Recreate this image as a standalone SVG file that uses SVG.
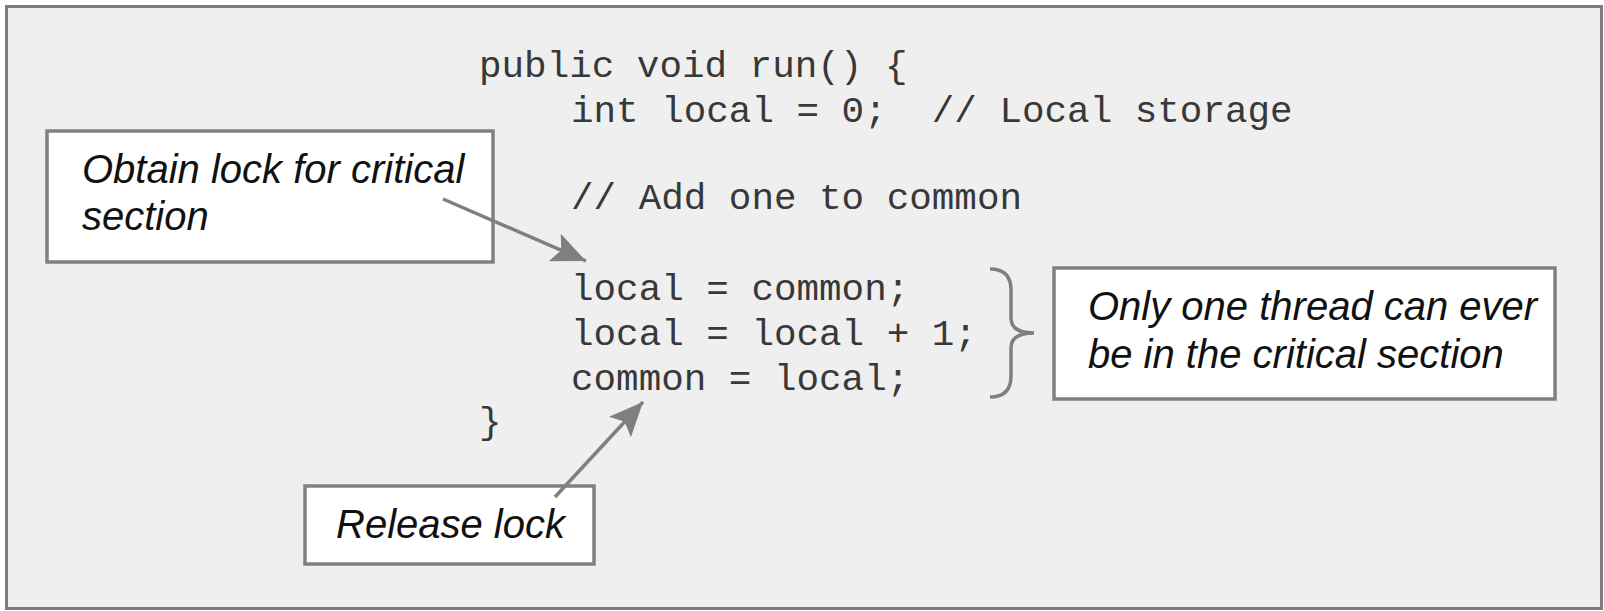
<svg xmlns="http://www.w3.org/2000/svg" width="1604" height="611" viewBox="0 0 1604 611">
  <style>
    .frame { fill: #efefef; stroke: #7c7c7c; stroke-width: 3; }
    .box { fill: #ffffff; stroke: #808080; stroke-width: 3.5; }
    .label { font-family: "Liberation Sans", Arial, sans-serif; font-style: italic; font-size: 40px; fill: #111111; }
    .code { font-family: "Liberation Mono", "Courier New", monospace; font-size: 37.6px; fill: #383838; }
    .conn { stroke: #7f7f7f; stroke-width: 3.5; fill: none; }
  </style>
  <defs>
    <marker id="arrow" markerUnits="userSpaceOnUse" markerWidth="36" markerHeight="32" refX="34" refY="15" orient="auto">
      <path d="M0,0 L34,15 L0,30 L7,15 Z" fill="#7f7f7f"/>
    </marker>
  </defs>
  <rect width="1604" height="611" fill="#ffffff"/>
  <rect class="frame" x="6.5" y="6.5" width="1595" height="602"/>

  <g id="code">
    <text class="code" x="479" y="77" xml:space="preserve">public void run() {</text>
    <text class="code" x="571" y="122" xml:space="preserve">int local = 0;  // Local storage</text>
    <text class="code" x="571" y="209" xml:space="preserve">// Add one to common</text>
    <text class="code" x="571" y="300" xml:space="preserve">local = common;</text>
    <text class="code" x="571" y="345" xml:space="preserve">local = local + 1;</text>
    <text class="code" x="571" y="390" xml:space="preserve">common = local;</text>
    <text class="code" x="479" y="433">}</text>
  </g>

  <g id="obtain">
    <rect class="box" x="47" y="131" width="446" height="131"/>
    <text class="label" x="82" y="183">Obtain lock for critical</text>
    <text class="label" x="82" y="230">section</text>
  </g>

  <g id="critical">
    <rect class="box" x="1054" y="268" width="501" height="131"/>
    <text class="label" x="1088" y="320">Only one thread can ever</text>
    <text class="label" x="1088" y="368">be in the critical section</text>
  </g>

  <g id="release">
    <rect class="box" x="305" y="486" width="289" height="78"/>
    <text class="label" x="336" y="538">Release lock</text>
  </g>

  <g id="connectors">
    <line class="conn" x1="443" y1="199" x2="586" y2="261" marker-end="url(#arrow)"/>
    <line class="conn" x1="555" y1="497" x2="643" y2="402" marker-end="url(#arrow)"/>
    <path class="conn" d="M990,269 C1004,269 1011,276 1011,290 L1011,318 C1011,328 1019,333 1034,333 C1019,333 1011,338 1011,348 L1011,376 C1011,390 1004,397 990,397"/>
  </g>
</svg>
